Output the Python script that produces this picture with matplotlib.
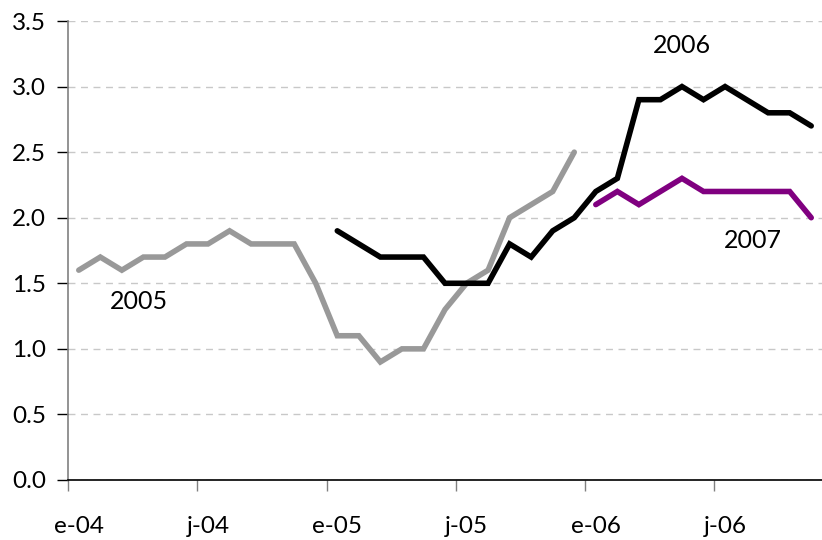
import matplotlib
matplotlib.use("Agg")
import matplotlib.pyplot as plt

# month index 0 = Jan 2004
tick_labels = ["e-04", "j-04", "e-05", "j-05", "e-06", "j-06"]
label_months = [0, 6, 12, 18, 24, 30]

s2005_start = 0
s2005 = [1.6, 1.7, 1.6, 1.7, 1.7, 1.8, 1.8, 1.9, 1.8, 1.8, 1.8, 1.5,
         1.1, 1.1, 0.9, 1.0, 1.0, 1.3, 1.5, 1.6, 2.0, 2.1, 2.2, 2.5]
s2006_start = 12
s2006 = [1.9, 1.8, 1.7, 1.7, 1.7, 1.5, 1.5, 1.5, 1.8, 1.7, 1.9, 2.0,
         2.2, 2.3, 2.9, 2.9, 3.0, 2.9, 3.0, 2.9, 2.8, 2.8, 2.7]
s2007_start = 24
s2007 = [2.1, 2.2, 2.1, 2.2, 2.3, 2.2, 2.2, 2.2, 2.2, 2.2, 2.0]

plt.rcParams['font.family'] = ['Lato', 'DejaVu Sans']

fig = plt.figure(figsize=(8.22, 5.40), dpi=100)
ax = fig.add_axes([68/822, 1-480/540, 1-68/822, (480-21)/540])

lw = 4.0
ax.plot(range(s2005_start, s2005_start+len(s2005)), s2005, color='#999999', lw=lw,
        solid_joinstyle='miter', solid_capstyle='round', zorder=3)
ax.plot(range(s2006_start, s2006_start+len(s2006)), s2006, color='#000000', lw=lw,
        solid_joinstyle='miter', solid_capstyle='round', zorder=4)
ax.plot(range(s2007_start, s2007_start+len(s2007)), s2007, color='#800080', lw=lw,
        solid_joinstyle='miter', solid_capstyle='round', zorder=5)

ax.text(2.8, 1.36, "2005", fontsize=18, ha='center', va='center')
ax.text(28.0, 3.31, "2006", fontsize=18, ha='center', va='center')
ax.text(31.3, 1.83, "2007", fontsize=18, ha='center', va='center')

ax.set_xlim(-0.5, 34.5)
ax.set_ylim(0, 3.5)
ax.set_yticks([0, 0.5, 1.0, 1.5, 2.0, 2.5, 3.0, 3.5])
ax.set_yticklabels([f"{v:.1f}" for v in [0, 0.5, 1.0, 1.5, 2.0, 2.5, 3.0, 3.5]])
ax.yaxis.grid(True, linestyle=(0, (5, 4)), color='#c8c8c8', lw=1)
ax.set_axisbelow(True)

ax.set_xticks([m - 0.5 for m in label_months])
ax.set_xticklabels([])
ax.set_xticks(label_months, minor=True)
ax.set_xticklabels(tick_labels, minor=True)
ax.tick_params(axis='x', which='major', length=8, width=1, color='#808080', direction='out')
ax.tick_params(axis='x', which='minor', length=0, pad=26, labelsize=17.5)
ax.tick_params(axis='y', length=8, width=1, color='#000000', direction='out', pad=8, labelsize=17.5)

for s in ['top', 'right']:
    ax.spines[s].set_visible(False)
ax.spines['left'].set_color('#808080')
ax.spines['left'].set_linewidth(1.2)
ax.spines['bottom'].set_color('#000000')
ax.spines['bottom'].set_linewidth(1.2)

fig.savefig("out.png", dpi=100)
